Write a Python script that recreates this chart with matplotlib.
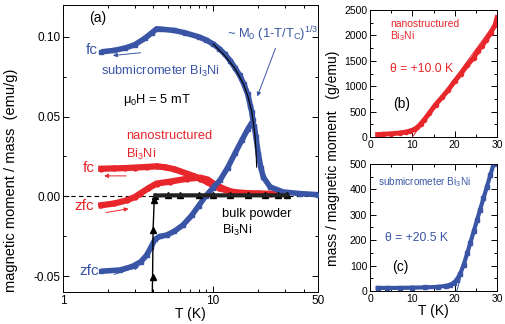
import matplotlib
matplotlib.use('Agg')
import matplotlib.pyplot as plt
from matplotlib.ticker import MultipleLocator, FixedLocator, NullFormatter

plt.rcParams['font.family'] = ['Liberation Sans', 'DejaVu Sans']
plt.rcParams['mathtext.default'] = 'regular'

BLUE = '#3a55a5'
RED = '#e8272c'

# ---- panel (a): magnetic moment / mass vs T ----
sub_fc_T = [1.8, 2.2, 2.6, 3.0, 3.5, 3.9, 4.2, 4.5, 5.5, 6.5, 8.0, 9.0, 10.0, 11.0,
            12.0, 13.0, 14.0, 15.0, 16.0, 17.0, 17.7, 18.1, 18.4]
sub_fc_M = [0.0906, 0.0915, 0.0930, 0.0950, 0.0990, 0.1025, 0.1050, 0.1048, 0.1040,
            0.1025, 0.1000, 0.0980, 0.0955, 0.0925, 0.0890, 0.0850, 0.0805, 0.0760,
            0.0705, 0.0640, 0.0569, 0.0527, 0.0480]

sub_zfc_T = [1.8, 2.4, 2.9, 3.3, 3.6, 3.85, 4.1, 4.4, 4.9, 5.5, 6.3, 7.2, 8.0, 8.9,
             10.0, 11.1, 12.5, 14.0, 15.5, 17.0, 18.1, 18.8, 19.3, 20.0, 20.8, 21.6,
             24.0, 29.4, 38.0, 50.0]
sub_zfc_M = [-0.0470, -0.0462, -0.0440, -0.0410, -0.0370, -0.0320, -0.0270, -0.0252,
             -0.0243, -0.0220, -0.0180, -0.0120, -0.0060, 0.0000, 0.0055, 0.0100,
             0.0180, 0.0270, 0.0350, 0.0420, 0.0462, 0.0440, 0.0370, 0.0267, 0.0180,
             0.0120, 0.0058, 0.0027, 0.0017, 0.0010]

fit_T = [10.0, 12.0, 14.0, 15.0, 16.0, 17.0, 18.0, 18.5, 19.0, 19.3, 19.5]
fit_M = [0.0955, 0.0880, 0.0800, 0.0750, 0.0700, 0.0630, 0.0540, 0.0470, 0.0380,
         0.0290, 0.0183]

nano_fc_T = [1.8, 2.2, 2.6, 3.0, 3.6, 4.2, 4.8, 5.5, 6.7, 7.5, 8.2, 9.1, 10.0, 11.0,
             12.3, 14.0, 16.8, 20.0, 24.0, 28.0]
nano_fc_M = [0.0173, 0.0175, 0.0177, 0.0180, 0.0184, 0.0188, 0.0182, 0.0170, 0.0142,
             0.0125, 0.0110, 0.0090, 0.0068, 0.0050, 0.0037, 0.0026, 0.0020, 0.0018,
             0.0016, 0.0015]

nano_zfc_T = [1.8, 2.2, 2.66, 3.0, 3.26, 3.7, 4.2, 5.16, 6.7, 8.2, 9.2, 10.05, 11.0, 12.3]
nano_zfc_M = [-0.0056, -0.0045, -0.0025, -0.0005, 0.0017, 0.0050, 0.0080, 0.0092,
              0.0110, 0.0117, 0.0105, 0.0080, 0.0060, 0.0040]

bulk_T = [3.90, 3.95, 3.98, 4.05, 4.12, 5.0, 6.0, 8.0, 10.0, 13.0, 17.0, 22.0, 27.0, 31.0]
bulk_M = [-0.0800, -0.0504, -0.0213, -0.0025, 0.0005, 0.0006, 0.0006, 0.0006, 0.0006,
          0.0006, 0.0006, 0.0006, 0.0006, 0.0006]

# ---- panel (b): nanostructured, inverse susceptibility ----
nano_inv_T = [1.8, 3.0, 5.0, 7.0, 8.5, 9.5, 10.5, 11.2, 12.0, 12.8, 14.0, 15.5, 17.0,
              18.5, 20.0, 21.5, 23.0, 24.5, 25.5, 26.5, 27.5, 28.5, 29.5, 30.0]
nano_inv = [50, 55, 65, 80, 100, 120, 150, 190, 260, 340, 470, 640, 780, 930, 1100,
            1250, 1420, 1560, 1700, 1800, 1920, 2050, 2200, 2350]
nano_fit_T = [10.0, 30.0]
nano_fit = [0, 2300]

# ---- panel (c): submicrometer, inverse susceptibility ----
sub_inv_T = [1.8, 4.0, 7.0, 10.0, 13.0, 16.0, 18.0, 19.0, 19.8, 20.5, 21.3, 22.1, 23.0,
             23.7, 24.5, 25.3, 26.0, 26.8, 27.6, 28.4, 29.2]
sub_inv = [12, 12, 12, 13, 14, 16, 20, 25, 32, 45, 68, 102, 150, 190, 235, 280, 320,
           365, 410, 455, 500]
sub_fit_T = [20.5, 29.2]
sub_fit = [0, 500]


def style_axis(ax, size):
    ax.tick_params(which='both', direction='in', top=True, right=True,
                   labelsize=size, width=0.7, pad=2)
    ax.tick_params(which='major', length=4)
    ax.tick_params(which='minor', length=2)
    for s in ax.spines.values():
        s.set_linewidth(0.7)


fig = plt.figure(figsize=(5.05, 3.24), dpi=100)

ax = fig.add_axes([0.1248, 0.0988, 0.505, 0.886])
ax.set_xscale('log')
ax.set_xlim(1, 50)
ax.set_ylim(-0.06, 0.12)
ax.axhline(0, color='k', lw=0.8, ls=(0, (4, 3)), zorder=1)

ax.plot(sub_zfc_T, sub_zfc_M, color=BLUE, lw=4, marker='s', ms=3.5,
        solid_capstyle='butt', zorder=3)
ax.plot(sub_fc_T, sub_fc_M, color=BLUE, lw=4, marker='s', ms=3.5,
        solid_capstyle='butt', zorder=3)
ax.plot(fit_T, fit_M, color='k', lw=0.8, zorder=4)
ax.plot(nano_fc_T, nano_fc_M, color=RED, lw=4.5, marker='o', ms=3.5, zorder=2)
ax.plot(nano_zfc_T, nano_zfc_M, color=RED, lw=4.5, marker='o', ms=3.5, zorder=2)
ax.plot(bulk_T, bulk_M, color='k', lw=1, marker='^', ms=4, zorder=4)
ax.plot(bulk_T[4:], bulk_M[4:], color='#222222', lw=3, zorder=4)

ax.set_xticks([1, 10, 50])
ax.set_xticklabels(['1', '10', '50'])
ax.xaxis.set_minor_locator(FixedLocator([2, 3, 4, 5, 6, 7, 8, 9, 20, 30, 40]))
ax.xaxis.set_minor_formatter(NullFormatter())
ax.set_yticks([-0.05, 0.0, 0.05, 0.10])
ax.set_yticklabels(['-0.05', '0.00', '0.05', '0.10'])
ax.yaxis.set_minor_locator(MultipleLocator(0.025))
style_axis(ax, 8.5)
ax.set_xlabel('T (K)', fontsize=10, labelpad=0)
ax.set_ylabel('magnetic moment / mass  (emu/g)', fontsize=10.5)
ax.yaxis.set_label_coords(-0.175, 0.39)

arrow = dict(arrowstyle='-|>', lw=0.7, mutation_scale=6)
ax.annotate('', xy=(2.06, 0.0881), xytext=(3.43, 0.0902), arrowprops=dict(arrow, color=BLUE))
ax.annotate('', xy=(3.35, -0.0435), xytext=(2.1, -0.0495), arrowprops=dict(arrow, color=BLUE))
ax.annotate('', xy=(1.8, 0.0128), xytext=(2.75, 0.0128), arrowprops=dict(arrow, color=RED))
ax.annotate('', xy=(2.85, -0.0075), xytext=(1.85, -0.0105), arrowprops=dict(arrow, color=RED))
ax.annotate('', xy=(19.4, 0.061), xytext=(26.4, 0.0944), arrowprops=dict(arrow, color=BLUE))

ax.text(1.55, 0.0915, 'fc', color=BLUE, fontsize=11, ha='center', va='center')
ax.text(1.8, 0.078, 'submicrometer Bi$_3$Ni', color=BLUE, fontsize=9.3, va='center')
ax.text(2.5, 0.0604, '$\\mu_0$H = 5 mT', color='k', fontsize=9.3, va='center')
ax.text(2.64, 0.0375, 'nanostructured', color=RED, fontsize=9.3, va='center')
ax.text(2.64, 0.0265, 'Bi$_3$Ni', color=RED, fontsize=9.3, va='center')
ax.text(1.48, 0.0179, 'fc', color=RED, fontsize=11, ha='center', va='center')
ax.text(1.38, -0.0062, 'zfc', color=RED, fontsize=11, ha='center', va='center')
ax.text(1.5, -0.0467, 'zfc', color=BLUE, fontsize=11, ha='center', va='center')
ax.text(11.4, -0.0108, 'bulk powder', color='k', fontsize=9.3, va='center')
ax.text(11.4, -0.0217, 'Bi$_3$Ni', color='k', fontsize=9.3, va='center')
ax.text(12.3, 0.1017, '~ M$_0$ (1-T/T$_C$)$^{1/3}$', color=BLUE, fontsize=9.3, va='center')
ax.text(1.5, 0.1115, '(a)', color='k', fontsize=10, va='center')

# panel (b)
axb = fig.add_axes([0.7327, 0.577, 0.2515, 0.392])
axb.plot(nano_inv_T, nano_inv, color=RED, lw=3.5, marker='o', ms=3, zorder=2)
axb.plot(nano_fit_T, nano_fit, color=RED, lw=0.7, zorder=3)
axb.set_xlim(0, 30)
axb.set_ylim(0, 2500)
axb.xaxis.set_major_locator(MultipleLocator(10))
axb.xaxis.set_minor_locator(MultipleLocator(5))
axb.yaxis.set_major_locator(MultipleLocator(500))
axb.yaxis.set_minor_locator(MultipleLocator(250))
style_axis(axb, 7.5)
axb.text(4.7, 2224, 'nanostructured', color=RED, fontsize=7.5, va='center')
axb.text(4.7, 1987, 'Bi$_3$Ni', color=RED, fontsize=7.5, va='center')
axb.text(4.7, 1349, '\u03b8 = +10.0 K', color=RED, fontsize=8.8, va='center')
axb.text(7.5, 658, '(b)', color='k', fontsize=10, ha='center', va='center')

# panel (c)
axc = fig.add_axes([0.7327, 0.102, 0.2515, 0.392])
axc.plot(sub_inv_T, sub_inv, color=BLUE, lw=3, marker='s', ms=2.5, zorder=2)
axc.plot(sub_fit_T, sub_fit, color=BLUE, lw=0.7, zorder=3)
axc.set_xlim(0, 30)
axc.set_ylim(0, 500)
axc.xaxis.set_major_locator(MultipleLocator(10))
axc.xaxis.set_minor_locator(MultipleLocator(5))
axc.yaxis.set_major_locator(MultipleLocator(100))
axc.yaxis.set_minor_locator(MultipleLocator(50))
style_axis(axc, 7.5)
axc.set_xlabel('T (K)', fontsize=10, labelpad=0)
axc.text(2.0, 429, 'submicrometer Bi$_3$Ni', color=BLUE, fontsize=7.2, va='center')
axc.text(3.55, 210, '\u03b8 = +20.5 K', color=BLUE, fontsize=8.8, va='center')
axc.text(7.1, 96, '(c)', color='k', fontsize=10, ha='center', va='center')

fig.text(333 / 505, 1 - 158 / 324, 'mass / magnetic moment   (g/emu)', rotation=90,
         fontsize=10, ha='center', va='center')

fig.savefig('out.png', dpi=100)
